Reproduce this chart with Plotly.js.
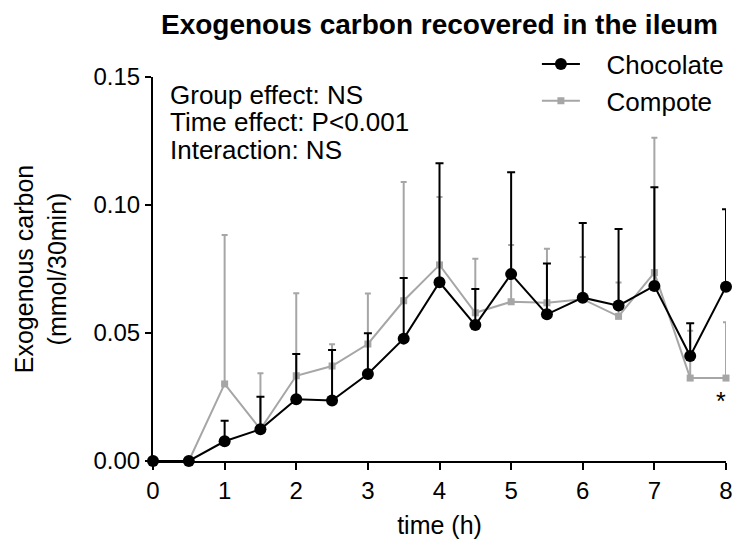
<!DOCTYPE html>
<html>
<head>
<meta charset="utf-8">
<script src="https://cdn.plot.ly/plotly-3.0.1.min.js"></script>
<style>html,body{margin:0;padding:0;background:#fff;}#chart{width:734px;height:547px;}</style>
</head>
<body>
<div id="chart"></div>
<script>
// time points (h)
const time = [0, 0.5, 1, 1.5, 2, 2.5, 3, 3.5, 4, 4.5, 5, 5.5, 6, 6.5, 7, 7.5, 8];
// Chocolate: mean and upper error (SEM)
const chocolate = [0, 0, 0.0077, 0.0124, 0.0241, 0.0236, 0.0340, 0.0478, 0.0698, 0.0531, 0.0730, 0.0573, 0.0638, 0.0607, 0.0684, 0.0410, 0.0681];
const chocolateErr = [0, 0, 0.0080, 0.0127, 0.0177, 0.0198, 0.0159, 0.0237, 0.0465, 0.0141, 0.0398, 0.0198, 0.0292, 0.0299, 0.0385, 0.0128, 0.0302];
// Compote: mean and upper error (SEM)
const compote = [0, 0, 0.0301, 0.0124, 0.0333, 0.0371, 0.0457, 0.0626, 0.0766, 0.0579, 0.0622, 0.0618, 0.0632, 0.0565, 0.0736, 0.0324, 0.0324];
const compoteErr = [0, 0, 0.0582, 0.0219, 0.0322, 0.0085, 0.0197, 0.0464, 0.0265, 0.0211, 0.0222, 0.0211, 0.0165, 0.0132, 0.0527, 0.0185, 0.0218];
const zeros = time.map(() => 0);
const seriesNames = ["Chocolate", "Compote"];
const statLines = ["Group effect: NS", "Time effect: P<0.001", "Interaction: NS"];

const FONT = "Liberation Sans, Arial, Helvetica, sans-serif";
const GRAY = "#a6a6a6";
const PAD = "\u00A0\u00A0\u00A0";

const traces = [
  {
    x: time, y: compote, name: PAD + seriesNames[1], type: "scatter", mode: "lines+markers",
    line: {color: GRAY, width: 2},
    marker: {symbol: "square", size: 7, color: GRAY},
    error_y: {type: "data", symmetric: false, array: compoteErr, arrayminus: zeros, color: GRAY, thickness: 2, width: 3},
    cliponaxis: false, legendrank: 2, legendgroup: "b"
  },
  {
    x: time, y: chocolate, name: PAD + seriesNames[0], type: "scatter", mode: "lines+markers",
    line: {color: "#000", width: 2},
    marker: {symbol: "circle", size: 12, color: "#000"},
    error_y: {type: "data", symmetric: false, array: chocolateErr, arrayminus: zeros, color: "#000", thickness: 2, width: 4},
    cliponaxis: false, legendrank: 1, legendgroup: "a"
  }
];

const annotations = statLines.map((t, i) => ({
  text: t, xref: "paper", yref: "paper", x: 0.026, y: [0.953, 0.882, 0.811][i],
  xanchor: "left", yanchor: "middle", showarrow: false,
  font: {family: FONT, size: 26, color: "#000"}
}));
annotations.push({
  text: "*", xref: "x", yref: "y", x: 7.93, y: 0.0235, showarrow: false,
  font: {family: FONT, size: 25, color: "#000"}
});

const layout = {
  width: 734, height: 547,
  margin: {l: 153, r: 5, t: 77, b: 86},
  paper_bgcolor: "#fff", plot_bgcolor: "#fff",
  font: {family: FONT, color: "#000"},
  title: {
    text: "<b>Exogenous carbon recovered in the ileum</b>",
    xref: "paper", x: 0.5, xanchor: "center", y: 0.955, yanchor: "middle",
    font: {family: FONT, size: 28, color: "#000"}
  },
  xaxis: {
    range: [0, 8], dtick: 1, tick0: 0, ticks: "outside", ticklen: 7, tickwidth: 2, tickcolor: "#000",
    showline: true, linewidth: 2, linecolor: "#000", showgrid: false, zeroline: false,
    tickfont: {family: FONT, size: 24, color: "#000"}, ticklabeloverflow: "allow",
    title: {text: "time (h)", font: {family: FONT, size: 25, color: "#000"}, standoff: 14},
    automargin: false
  },
  yaxis: {
    range: [0, 0.15], dtick: 0.05, tick0: 0, tickformat: ".2f", ticks: "outside", ticklen: 6, tickwidth: 2, tickcolor: "#000",
    showline: true, linewidth: 2, linecolor: "#000", showgrid: false, zeroline: false,
    tickfont: {family: FONT, size: 24, color: "#000"},
    title: {text: "Exogenous carbon<br>(mmol/30min)", font: {family: FONT, size: 25, color: "#000"}, standoff: 20},
    automargin: false
  },
  showlegend: true,
  legend: {
    x: 0.67, y: 1.095, xanchor: "left", yanchor: "top",
    font: {family: FONT, size: 26, color: "#000"},
    bgcolor: "rgba(0,0,0,0)", tracegroupgap: 0, itemwidth: 38
  },
  annotations: annotations
};

Plotly.newPlot("chart", traces, layout, {displayModeBar: false, staticPlot: true});
</script>
</body>
</html>
